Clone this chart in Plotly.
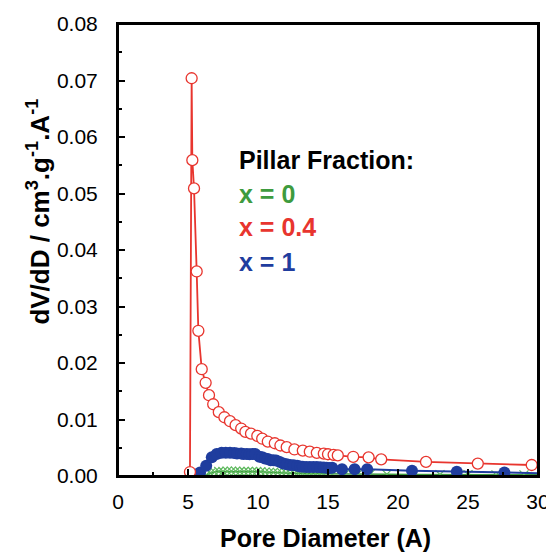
import plotly.graph_objects as go

# ---- data ----
red_x = [5.14, 5.26, 5.31, 5.43, 5.62, 5.74, 5.98, 6.26, 6.5, 6.8, 7.2, 7.6, 8.0, 8.4, 8.8, 9.1,
         9.5, 9.95, 10.3, 10.7, 11.2, 11.6, 12.05, 12.6, 13.2, 13.7, 14.2, 14.7, 15.0, 15.4, 15.7,
         16.8, 17.9, 18.8, 22.0, 25.7, 29.55]
red_y = [0.0007, 0.0704, 0.0559, 0.0509, 0.0362, 0.0257, 0.0189, 0.0165, 0.0143, 0.0127, 0.0113,
         0.0104, 0.0097, 0.0090, 0.0084, 0.0078, 0.0075, 0.0071, 0.0066, 0.0061, 0.0058, 0.0054,
         0.0051, 0.0047, 0.0045, 0.0043, 0.0041, 0.00395, 0.00385, 0.00375, 0.00365,
         0.0034, 0.0033, 0.00295, 0.0025, 0.0022, 0.00195]

blue_x = [5.86, 6.3, 6.7, 7.05, 7.4, 7.7, 8.0, 8.3, 8.5, 8.8, 8.95, 9.2, 9.4, 9.6, 9.8, 10.1, 10.3,
          10.5, 10.7, 10.9, 11.1, 11.3, 11.55, 11.8, 12.05, 12.3, 12.55, 12.8, 13.0, 13.2, 13.45,
          13.7, 13.95, 14.2, 14.45, 14.7, 14.9, 15.1, 15.3, 16.0, 16.9, 17.8, 21.0, 24.2, 27.6, 31.0]
blue_y = [0.0006, 0.0018, 0.0033, 0.0039, 0.0041, 0.0041, 0.0041, 0.00405, 0.0040, 0.0040, 0.0039,
          0.0039, 0.00385, 0.0039, 0.0039, 0.0034, 0.0033, 0.0031, 0.0030, 0.0028, 0.0028, 0.00275,
          0.0025, 0.0022, 0.0021, 0.00195, 0.0019, 0.0018, 0.0017, 0.00165, 0.0016, 0.0016, 0.0016,
          0.0016, 0.00155, 0.0015, 0.00145, 0.0014, 0.00145, 0.0012, 0.0012, 0.0012, 0.00095,
          0.00077, 0.0006, 0.00045]

green_x = [6.3, 6.6, 6.9, 7.2, 7.5, 7.8, 8.1, 8.4, 8.7, 9.0, 9.3, 9.6, 9.9, 10.2, 10.5, 10.8, 11.1,
           11.4, 11.7, 12.0, 12.3, 12.6, 12.9, 13.2, 13.5, 13.8, 14.1, 14.4, 14.7, 15.0, 15.3, 16.2,
           17.1, 18.0, 19.2, 21.0, 23.0, 25.0, 27.0, 29.0, 31.0]
green_y = [0.0002, 0.0005, 0.0007, 0.0008, 0.0008, 0.00085, 0.00085, 0.00085, 0.0008, 0.0008, 0.0008,
           0.0008, 0.0008, 0.00075, 0.0007, 0.00065, 0.00065, 0.0006, 0.00055, 0.00055, 0.0005,
           0.0005, 0.00045, 0.00045, 0.00045, 0.0004, 0.0004, 0.0004, 0.0004, 0.00035, 0.00035,
           0.0003, 0.0003, 0.0003, 0.0003, 0.00025, 0.00025, 0.00025, 0.0002, 0.0002, 0.0002]

legend_title = "Pillar Fraction:"
legend_labels = ["x = 0", "x = 0.4", "x = 1"]
x_title = "Pore Diameter (A)"
y_title = "dV/dD / cm<sup>3</sup>.g<sup>-1</sup>.A<sup>-1</sup>"

RED = "#e8352e"
GREEN = "#3e9b3e"
BLUE = "#1f3d9e"

fig = go.Figure()
fig.add_trace(go.Scatter(x=green_x, y=green_y, mode="lines+markers",
                         line=dict(color=GREEN, width=1.5),
                         marker=dict(symbol="x-thin", size=9, line=dict(color="#5cb85c", width=1.2)),
                         showlegend=False))
fig.add_trace(go.Scatter(x=blue_x, y=blue_y, mode="lines+markers",
                         line=dict(color=BLUE, width=2),
                         marker=dict(symbol="circle", size=12, color=BLUE),
                         showlegend=False))
fig.add_trace(go.Scatter(x=red_x, y=red_y, mode="lines+markers",
                         line=dict(color=RED, width=1.8),
                         marker=dict(symbol="circle", size=11, color="white",
                                     line=dict(color=RED, width=1.3)),
                         showlegend=False))

font = "Liberation Sans, Arial, sans-serif"
ann_y = [0.0559, 0.0500, 0.0440, 0.0378]
ann_text = [legend_title] + legend_labels
ann_col = ["black", GREEN, RED, BLUE]
for t, yy, c in zip(ann_text, ann_y, ann_col):
    fig.add_annotation(x=8.5, y=yy, xref="x", yref="y", text="<b>%s</b>" % t,
                       showarrow=False, xanchor="left", yanchor="middle",
                       font=dict(family=font, size=25, color=c))

# axis titles placed as annotations (keeps the plot area fixed)
fig.add_annotation(x=-0.188, y=0.585, xref="paper", yref="paper", textangle=-90,
                   text="<b>%s</b>" % y_title,
                   showarrow=False, xanchor="center", yanchor="middle",
                   font=dict(family=font, size=26, color="black"))
fig.add_annotation(x=0.493, y=-0.137, xref="paper", yref="paper",
                   text="<b>%s</b>" % x_title,
                   showarrow=False, xanchor="center", yanchor="middle",
                   font=dict(family=font, size=25, color="black"))

# plot frame
fig.add_shape(type="rect", xref="paper", yref="paper", x0=0, x1=1, y0=0, y1=1,
              line=dict(color="black", width=2), fillcolor="rgba(0,0,0,0)", layer="above")

axis_common = dict(showline=True, linecolor="black", linewidth=2, mirror=True,
                   ticks="inside", ticklen=7, tickwidth=1.5, tickcolor="black",
                   showgrid=False, zeroline=False, automargin=False,
                   tickfont=dict(family=font, size=21, color="black"))

fig.update_xaxes(range=[0, 30], dtick=5, tick0=0,
                 minor=dict(ticks="inside", dtick=2.5, ticklen=4, tickwidth=1.5, tickcolor="black"),
                 ticklabelstandoff=6,
                 **axis_common)
fig.update_yaxes(range=[0, 0.08], dtick=0.01, tick0=0, tickformat=".2f",
                 minor=dict(ticks="inside", dtick=0.005, ticklen=4, tickwidth=1.5, tickcolor="black"),
                 ticklabelstandoff=14,
                 **axis_common)

# page body adds an 8px margin, so the figure is 8px smaller and margins shifted
fig.update_layout(width=546, height=544, margin=dict(l=110, r=16, t=16, b=76),
                  plot_bgcolor="white", paper_bgcolor="white", showlegend=False)

fig.write_html("out.html")
